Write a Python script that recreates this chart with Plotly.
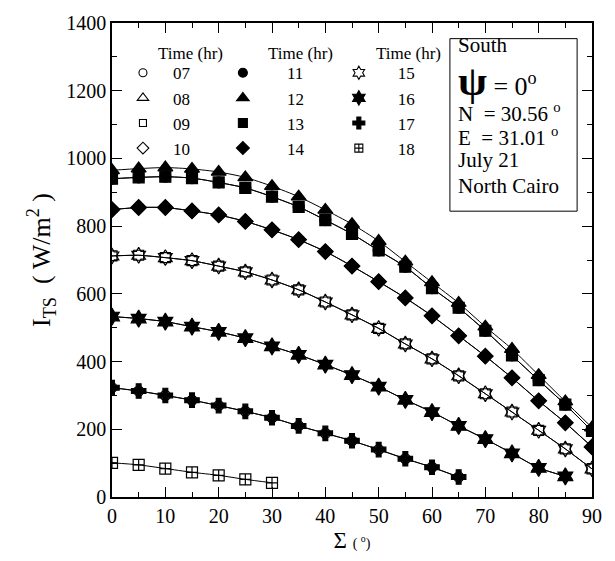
import plotly.graph_objects as go

# Tilt angle of the collector surface (degrees)
sigma = [0, 5, 10, 15, 20, 25, 30, 35, 40, 45, 50, 55, 60, 65, 70, 75, 80, 85, 90]

# Total irradiance on the tilted surface (W/m^2); symmetric hours share values
irr_12 = [965, 970, 973, 969, 960, 944, 918, 887, 848, 806, 756, 695, 634, 573, 503, 437, 360, 282, 205]
irr_11_13 = [940, 944, 946, 942, 929, 913, 887, 857, 818, 777, 728, 680, 617, 559, 491, 418, 345, 273, 195]
irr_10_14 = [849, 855, 855, 845, 833, 814, 789, 760, 725, 682, 636, 588, 535, 476, 416, 352, 284, 219, 148]
irr_09_15 = [712, 714, 707, 698, 682, 665, 641, 612, 576, 538, 498, 452, 408, 358, 305, 251, 197, 142, 83]
irr_08_16 = [533, 527, 518, 503, 488, 469, 445, 420, 391, 360, 326, 287, 251, 210, 171, 129, 86, 61]
irr_07_17 = [323, 313, 300, 286, 270, 253, 234, 210, 188, 166, 140, 113, 88, 59]
irr_18 = [101, 95, 84, 73, 64, 52, 42]

hours = ["07", "08", "09", "10", "11", "12", "13", "14", "15", "16", "17", "18"]
hour_values = {
    "07": irr_07_17, "08": irr_08_16, "09": irr_09_15, "10": irr_10_14,
    "11": irr_11_13, "12": irr_12, "13": irr_11_13, "14": irr_10_14,
    "15": irr_09_15, "16": irr_08_16, "17": irr_07_17, "18": irr_18,
}
symbols = {
    "07": "circle-open", "08": "triangle-up-open", "09": "square-open", "10": "diamond-open",
    "11": "circle", "12": "triangle-up", "13": "square", "14": "diamond",
    "15": "hexagram-open", "16": "hexagram", "17": "cross", "18": "square-cross-open",
}
sizes = {
    "07": 10, "08": 12, "09": 10, "10": 11, "11": 11, "12": 13, "13": 11, "14": 12,
    "15": 12, "16": 13, "17": 12, "18": 11,
}
key_sizes = {
    "07": 8, "08": 10, "09": 7, "10": 9, "11": 9, "12": 11, "13": 9, "14": 10,
    "15": 10, "16": 11, "17": 10, "18": 8,
}
# which key column each hour sits in
legend_group = {h: ("legend" if i < 4 else "legend2" if i < 8 else "legend3") for i, h in enumerate(hours)}

FONT = "Liberation Serif, Times New Roman, serif"

fig = go.Figure()
for h in hours:
    y = hour_values[h]
    # curve with its markers
    fig.add_trace(go.Scatter(
        x=sigma[:len(y)], y=y, name=h, showlegend=False,
        mode="lines+markers",
        line=dict(color="black", width=1, shape="spline", smoothing=0.6),
        marker=dict(symbol=symbols[h], size=sizes[h], color="black",
                    line=dict(color="black", width=1.2)),
    ))
    # marker-only key entry
    fig.add_trace(go.Scatter(
        x=[None], y=[None], name=h, legend=legend_group[h],
        mode="markers",
        marker=dict(symbol=symbols[h], size=key_sizes[h], color="black",
                    line=dict(color="black", width=1.1)),
    ))

legend_common = dict(
    bgcolor="rgba(0,0,0,0)", borderwidth=0,
    font=dict(family=FONT, size=17, color="black"),
    tracegroupgap=0, xanchor="left", yanchor="top", y=0.932,
)
fig.update_layout(
    legend=dict(x=0.002, itemwidth=50, **legend_common),
    legend2=dict(x=0.181, itemwidth=78, **legend_common),
    legend3=dict(x=0.433, itemwidth=68, **legend_common),
)

# Column headers of the key
for xpos in (0.1625, 0.392, 0.617):
    fig.add_annotation(xref="paper", yref="paper", x=xpos, y=0.935, text="Time (hr)",
                       showarrow=False, xanchor="center", yanchor="middle",
                       font=dict(family=FONT, size=17, color="black"))

axis_common = dict(
    showline=True, linecolor="black", linewidth=1.5, mirror="ticks",
    ticks="inside", ticklen=10, tickwidth=1.3, tickcolor="black",
    showgrid=False, zeroline=False,
    tickfont=dict(family=FONT, size=20, color="black"),
)
fig.update_xaxes(
    range=[0, 90], dtick=10, tick0=0,
    minor=dict(ticks="inside", ticklen=5, dtick=5, tickwidth=1.3, tickcolor="black", showgrid=False),
    title=dict(text="Σ <span style='font-size:14px'>( <sup>o</sup>)</span>",
               font=dict(family=FONT, size=23, color="black"), standoff=6),
    **axis_common,
)
fig.update_yaxes(
    range=[0, 1400], dtick=200, tick0=0,
    minor=dict(ticks="inside", ticklen=5, dtick=100, tickwidth=1.3, tickcolor="black", showgrid=False),
    title=dict(text="I<sub>TS</sub>  ( W/m<sup>2</sup> )",
               font=dict(family=FONT, size=26, color="black"), standoff=8),
    **axis_common,
)

# Site information box
fig.add_shape(type="rect", xref="paper", yref="paper",
              x0=0.704, x1=0.969, y0=0.603, y1=0.967,
              line=dict(color="black", width=1), fillcolor="white")
info_lines = [
    ("South", 0.954, 21),
    ("<b><span style='font-size:42px'>ψ</span></b> = 0<sup>o</sup>", 0.877, 26),
    ("N  = 30.56 <sup>o</sup>", 0.812, 21),
    ("E  = 31.01 <sup>o</sup>", 0.760, 21),
    ("July 21", 0.710, 21),
    ("North Cairo", 0.656, 21),
]
for text, ypos, fsize in info_lines:
    fig.add_annotation(xref="paper", yref="paper", x=0.716, y=ypos, text=text,
                       showarrow=False, xanchor="left", yanchor="middle",
                       font=dict(family=FONT, size=fsize, color="black"))

fig.update_layout(
    width=615, height=561,
    margin=dict(l=112, r=23, t=16, b=64),
    plot_bgcolor="white", paper_bgcolor="white",
    font=dict(family=FONT, color="black"),
)

fig.write_html("out.html")
